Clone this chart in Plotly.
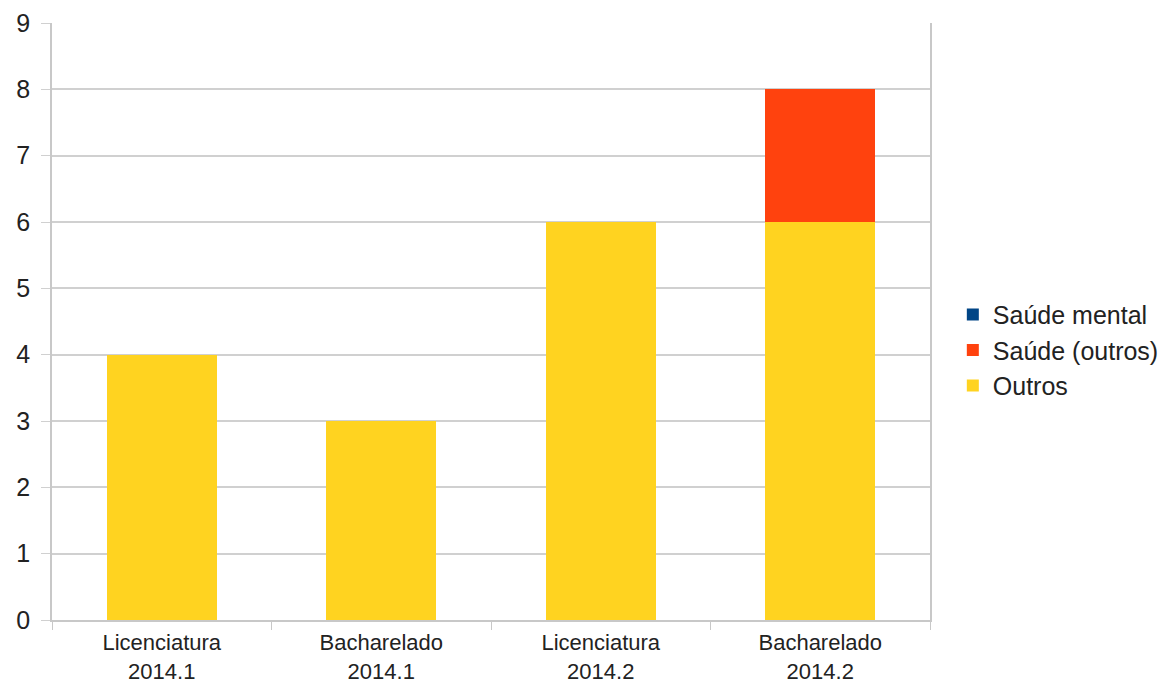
import plotly.graph_objects as go

categories = ["Licenciatura<br>2014.1", "Bacharelado<br>2014.1",
              "Licenciatura<br>2014.2", "Bacharelado<br>2014.2"]
outros = [4, 3, 6, 6]
saude_outros = [0, 0, 0, 2]
saude_mental = [0, 0, 0, 0]

fig = go.Figure()
fig.add_trace(go.Bar(x=categories, y=outros, name="Outros",
                     marker=dict(color="#FFD320", line=dict(width=0))))
fig.add_trace(go.Bar(x=categories, y=saude_outros, name="Saúde (outros)",
                     marker=dict(color="#FF420E", line=dict(width=0))))
fig.add_trace(go.Bar(x=categories, y=saude_mental, name="Saúde mental",
                     marker=dict(color="#004586", line=dict(width=0))))

fig.update_layout(
    barmode="stack",
    bargap=0.5,
    width=1176, height=684,
    margin=dict(l=52, r=246, t=23, b=64, autoexpand=False),
    paper_bgcolor="white", plot_bgcolor="white",
    font=dict(family="Liberation Sans, Arial, sans-serif", size=25, color="#222"),
    legend=dict(traceorder="reversed", x=1.026, xanchor="left", y=0.452,
                yanchor="middle", font=dict(size=25, color="#222"),
                itemwidth=30, tracegroupgap=0),
    xaxis=dict(showgrid=False, showline=True, linecolor="#c8c8c8", linewidth=1.5,
               ticks="outside", tickson="boundaries", ticklen=8,
               tickcolor="#c8c8c8", automargin=False, ticklabelstandoff=2,
               tickfont=dict(size=22, color="#222")),
    yaxis=dict(range=[0, 9], dtick=1, showgrid=True, gridcolor="#d0d0d0",
               gridwidth=1.5, showline=True, mirror=True, linecolor="#c8c8c8",
               linewidth=1.5, ticks="outside", ticklen=9, tickcolor="#d0d0d0",
               zeroline=False, automargin=False, ticklabelstandoff=6,
               tickfont=dict(size=25, color="#222")),
)

fig.write_html("out.html")
